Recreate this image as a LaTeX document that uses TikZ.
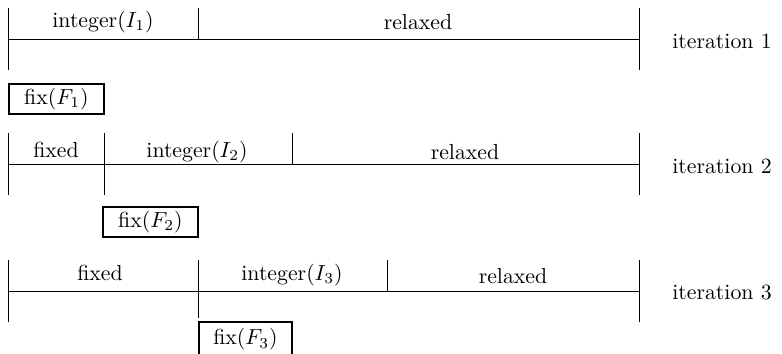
\documentclass[tikz,border=0pt]{standalone}
\begin{document}
\begin{tikzpicture}[x=0.459pt,y=-0.459pt,
  seg/.style={line width=0.45pt},
  lbl/.style={inner sep=0pt, anchor=base},
  fixbox/.style={draw, line width=0.85pt, inner sep=0pt, anchor=north west,
    minimum width=43.6pt, minimum height=13.8pt}]
\useasboundingbox (0,0) rectangle (782,354);
% ---------- iteration 1 ----------
\coordinate (a0t) at (8,8);   \coordinate (a0m) at (8,39);   \coordinate (a0b) at (8,70);
\coordinate (a1t) at (198,8); \coordinate (a1m) at (198,39);
\coordinate (aet) at (639,8); \coordinate (aem) at (639,39); \coordinate (aeb) at (639,70);
\draw[seg] (a0t) -- (a0b);
\draw[seg] (aet) -- (aeb);
\draw[seg] (a0m) -- (aem);
\draw[seg] (a1t) -- (a1m);
\node[lbl] (i1) at (103,27) {integer($I_1$)};
\node[lbl] (r1) at (418,29) {relaxed};
\node[lbl] (it1) at (722,48) {iteration 1};
\node[fixbox] (f1) at (8,83) {fix($F_1$)};
% ---------- iteration 2 ----------
\coordinate (b0t) at (8,133);   \coordinate (b0m) at (8,164);   \coordinate (b0b) at (8,195);
\coordinate (b1t) at (104,133); \coordinate (b1m) at (104,164); \coordinate (b1b) at (104,195);
\coordinate (b2t) at (292,133); \coordinate (b2m) at (292,164);
\coordinate (bet) at (639,133); \coordinate (bem) at (639,164); \coordinate (beb) at (639,195);
\draw[seg] (b0t) -- (b0b);
\draw[seg] (bet) -- (beb);
\draw[seg] (b0m) -- (bem);
\draw[seg] (b1t) -- (b1b);
\draw[seg] (b2t) -- (b2m);
\node[lbl] (x2) at (56,157) {fixed};
\node[lbl] (i2) at (197,157) {integer($I_2$)};
\node[lbl] (r2) at (465,159) {relaxed};
\node[lbl] (it2) at (722,173) {iteration 2};
\node[fixbox] (f2) at (102,206) {fix($F_2$)};
% ---------- iteration 3 ----------
\coordinate (c0t) at (8,260);   \coordinate (c0m) at (8,291);   \coordinate (c0b) at (8,322);
\coordinate (c1t) at (198,260); \coordinate (c1m) at (198,291); \coordinate (c1b) at (198,318);
\coordinate (c2t) at (387,260); \coordinate (c2m) at (387,291);
\coordinate (cet) at (639,260); \coordinate (cem) at (639,291); \coordinate (ceb) at (639,322);
\draw[seg] (c0t) -- (c0b);
\draw[seg] (cet) -- (ceb);
\draw[seg] (c0m) -- (cem);
\draw[seg] (c1t) -- (c1b);
\draw[seg] (c2t) -- (c2m);
\node[lbl] (x3) at (100,280) {fixed};
\node[lbl] (i3) at (292,280) {integer($I_3$)};
\node[lbl] (r3) at (513,283) {relaxed};
\node[lbl] (it3) at (722,299) {iteration 3};
\node[fixbox, minimum width=42.7pt, minimum height=16pt] (f3) at (198,321) {fix($F_3$)};
\end{tikzpicture}
\end{document}
